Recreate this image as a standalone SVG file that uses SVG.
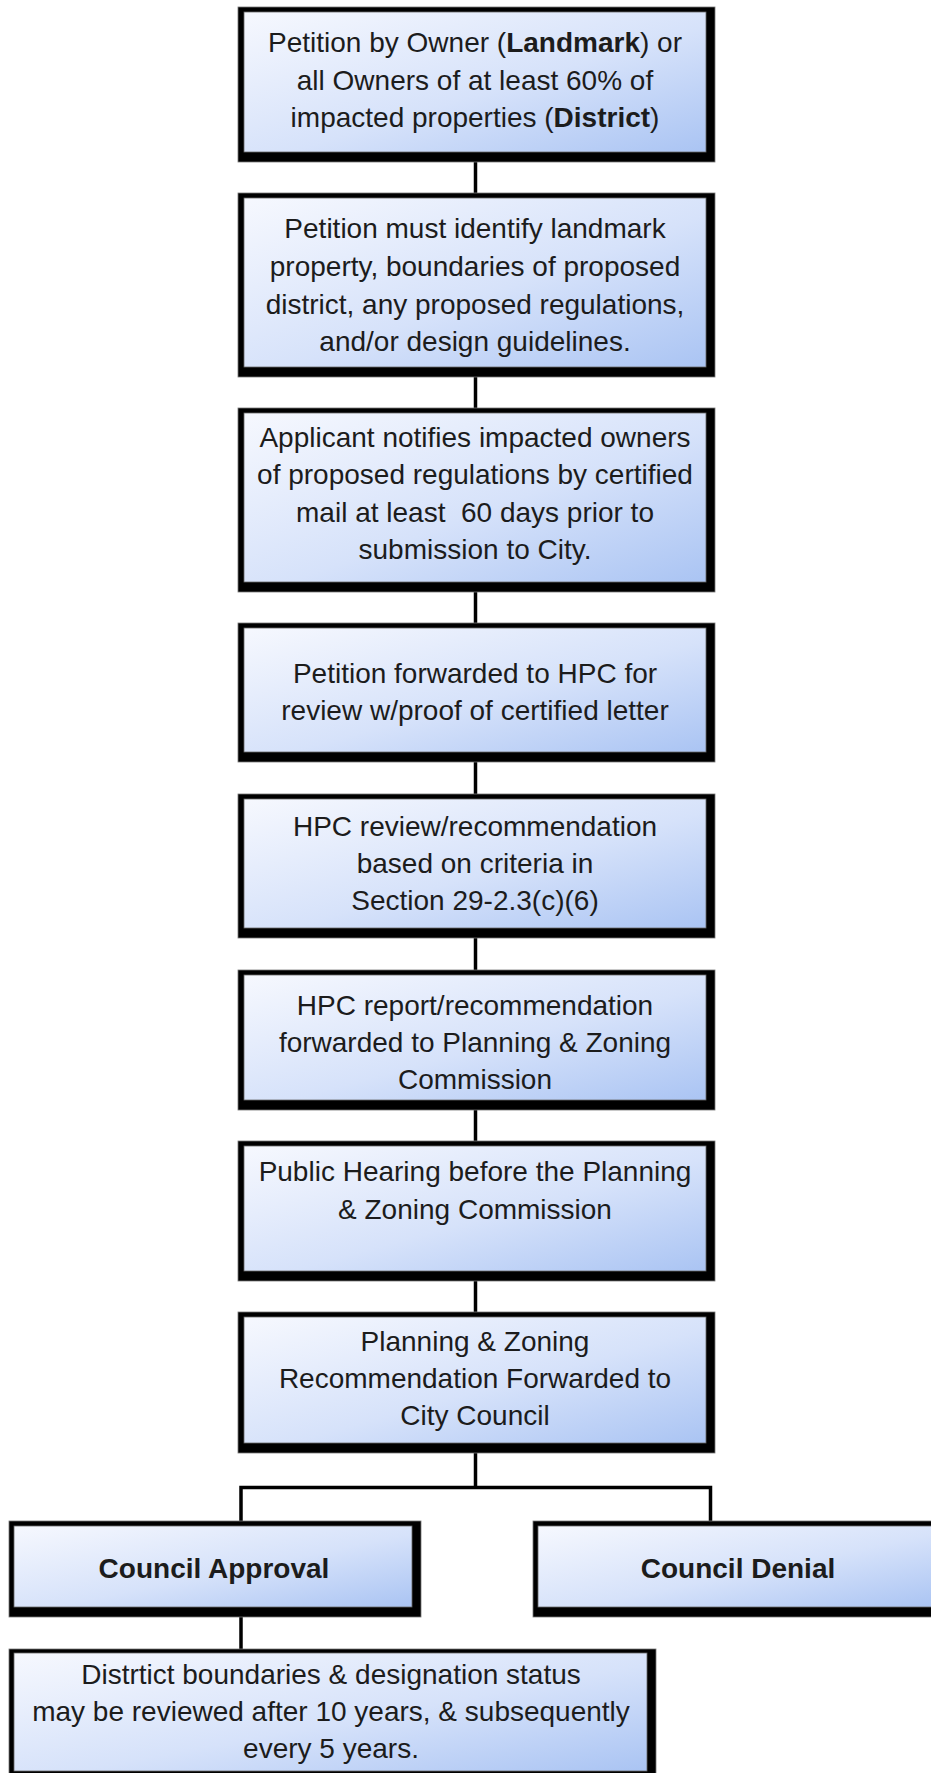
<svg xmlns="http://www.w3.org/2000/svg" width="931" height="1773" viewBox="0 0 931 1773">
<defs>
<linearGradient id="fill" x1="0" y1="0" x2="1" y2="1">
<stop offset="0" stop-color="#f6f8fe"/>
<stop offset="0.55" stop-color="#d6e2fa"/>
<stop offset="1" stop-color="#aac4f3"/>
</linearGradient>
<style>
.frame{fill:#000;stroke:#777;stroke-width:0.8}
.face{fill:url(#fill);stroke:#666;stroke-width:0.8}
.t{font-family:"Liberation Sans",Arial,sans-serif;font-size:28px;fill:#1c1c1c;text-anchor:middle}
.b{font-weight:bold}
.conn{stroke:#000;stroke-width:3.5;fill:none;stroke-linejoin:miter;stroke-linecap:butt}
</style>
</defs>
<rect width="931" height="1773" fill="#fff"/>
<g id="connectors">
<line class="conn" x1="475.5" y1="160" x2="475.5" y2="195"/>
<line class="conn" x1="475.5" y1="375" x2="475.5" y2="410"/>
<line class="conn" x1="475.5" y1="590" x2="475.5" y2="625"/>
<line class="conn" x1="475.5" y1="760" x2="475.5" y2="796"/>
<line class="conn" x1="475.5" y1="936" x2="475.5" y2="972"/>
<line class="conn" x1="475.5" y1="1108" x2="475.5" y2="1143"/>
<line class="conn" x1="475.5" y1="1279" x2="475.5" y2="1314"/>
<line class="conn" x1="475.5" y1="1451" x2="475.5" y2="1487.5"/>
<path class="conn" d="M241,1523 V1487.5 H710.5 V1523"/>
<line class="conn" x1="241" y1="1615" x2="241" y2="1651"/>
</g>
<g id="n1">
<rect class="frame" x="238" y="7" width="477" height="155"/>
<rect class="face" x="244" y="12" width="462" height="140"/>
<text class="t" x="475" y="52">Petition by Owner (<tspan class="b">Landmark</tspan>) or</text>
<text class="t" x="475" y="89.5">all Owners of at least 60% of</text>
<text class="t" x="475" y="127">impacted properties (<tspan class="b">District</tspan>)</text>
</g>
<g id="n2">
<rect class="frame" x="238" y="193" width="477" height="184"/>
<rect class="face" x="244" y="198" width="462" height="169"/>
<text class="t" x="475" y="238">Petition must identify landmark</text>
<text class="t" x="475" y="276">property, boundaries of proposed</text>
<text class="t" x="475" y="314">district, any proposed regulations,</text>
<text class="t" x="475" y="351">and/or design guidelines.</text>
</g>
<g id="n3">
<rect class="frame" x="238" y="408" width="477" height="184"/>
<rect class="face" x="244" y="413" width="462" height="169"/>
<text class="t" x="475" y="447">Applicant notifies impacted owners</text>
<text class="t" x="475" y="484">of proposed regulations by certified</text>
<text class="t" x="475" y="522" xml:space="preserve">mail at least  60 days prior to</text>
<text class="t" x="475" y="559">submission to City.</text>
</g>
<g id="n4">
<rect class="frame" x="238" y="623" width="477" height="139"/>
<rect class="face" x="244" y="628" width="462" height="124"/>
<text class="t" x="475" y="683">Petition forwarded to HPC for</text>
<text class="t" x="475" y="720">review w/proof of certified letter</text>
</g>
<g id="n5">
<rect class="frame" x="238" y="794" width="477" height="144"/>
<rect class="face" x="244" y="799" width="462" height="129"/>
<text class="t" x="475" y="836">HPC review/recommendation</text>
<text class="t" x="475" y="873">based on criteria in</text>
<text class="t" x="475" y="910">Section 29-2.3(c)(6)</text>
</g>
<g id="n6">
<rect class="frame" x="238" y="970" width="477" height="140"/>
<rect class="face" x="244" y="975" width="462" height="125"/>
<text class="t" x="475" y="1015">HPC report/recommendation</text>
<text class="t" x="475" y="1052">forwarded to Planning &amp; Zoning</text>
<text class="t" x="475" y="1089">Commission</text>
</g>
<g id="n7">
<rect class="frame" x="238" y="1141" width="477" height="140"/>
<rect class="face" x="244" y="1146" width="462" height="125"/>
<text class="t" x="475" y="1181">Public Hearing before the Planning</text>
<text class="t" x="475" y="1219">&amp; Zoning Commission</text>
</g>
<g id="n8">
<rect class="frame" x="238" y="1312" width="477" height="141"/>
<rect class="face" x="244" y="1317" width="462" height="126"/>
<text class="t" x="475" y="1351">Planning &amp; Zoning</text>
<text class="t" x="475" y="1388">Recommendation Forwarded to</text>
<text class="t" x="475" y="1425">City Council</text>
</g>
<g id="n9">
<rect class="frame" x="9" y="1521" width="412" height="96"/>
<rect class="face" x="14" y="1526" width="398" height="81"/>
<text class="t b" x="214" y="1578">Council Approval</text>
</g>
<g id="n10">
<rect class="frame" x="533" y="1521" width="412" height="96"/>
<rect class="face" x="538" y="1526" width="398" height="81"/>
<text class="t b" x="738" y="1578">Council Denial</text>
</g>
<g id="n11">
<rect class="frame" x="9" y="1649" width="647" height="134"/>
<rect class="face" x="14" y="1653" width="633" height="118"/>
<text class="t" x="331" y="1684">Distrtict boundaries &amp; designation status</text>
<text class="t" x="331" y="1721">may be reviewed after 10 years, &amp; subsequently</text>
<text class="t" x="331" y="1758">every 5 years.</text>
</g>
</svg>
